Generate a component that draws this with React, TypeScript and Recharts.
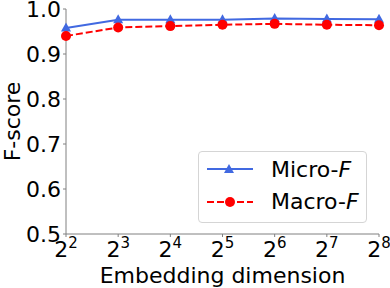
import React from "react"
import { Line, LineChart, XAxis, YAxis } from "recharts"

const exponents = [2, 3, 4, 5, 6, 7, 8]
const microF = [0.958, 0.976, 0.976, 0.976, 0.979, 0.978, 0.977]
const macroF = [0.94, 0.959, 0.962, 0.965, 0.967, 0.965, 0.964]
const yTicks = [0.5, 0.6, 0.7, 0.8, 0.9, 1.0]

const data = exponents.map((e, i) => ({ dim: e, micro: microF[i], macro: macroF[i] }))

const FONT = "'DejaVu Sans', sans-serif"
const BLUE = "#4169e1"
const RED = "#ff0000"

const PowerTick = (props: any) => {
  const { x, y, payload } = props
  return (
    <text x={x} y={y} dy={20} textAnchor="middle" fontFamily={FONT} fill="#000">
      <tspan fontSize={22}>2</tspan>
      <tspan fontSize={15} dy={-9}>{payload.value}</tspan>
    </text>
  )
}

const Triangle = (props: any) => {
  const { cx, cy, index } = props
  if (cx == null || cy == null) return null
  return <path key={index} d={`M${cx},${cy - 5.5} L${cx + 5},${cy + 3.5} L${cx - 5},${cy + 3.5} Z`} fill={BLUE} />
}

const Circle = (props: any) => {
  const { cx, cy, index } = props
  if (cx == null || cy == null) return null
  return <circle key={index} cx={cx} cy={cy} r={5} fill={RED} />
}

const LegendBox = () => (
  <div
    style={{
      position: "absolute",
      left: 198,
      top: 151,
      width: 169,
      height: 72,
      boxSizing: "border-box",
      border: "1px solid #d5d5d5",
      borderRadius: 4,
      background: "rgba(255,255,255,0.8)",
    }}
  >
    <svg width={167} height={70} style={{ display: "block" }}>
      <line x1={8} x2={54} y1={17} y2={17} stroke={BLUE} strokeWidth={2} />
      <path d="M30,12 L35,21 L25,21 Z" fill={BLUE} />
      <text x={72} y={25} fontSize={22} fontFamily={FONT} fill="#000">
        Micro-<tspan fontStyle="italic">F</tspan>
      </text>
      <line x1={8} x2={54} y1={50} y2={50} stroke={RED} strokeWidth={2} strokeDasharray="7 3" />
      <circle cx={31} cy={50} r={5} fill={RED} />
      <text x={72} y={57} fontSize={22} fontFamily={FONT} fill="#000">
        Macro-<tspan fontStyle="italic">F</tspan>
      </text>
    </svg>
  </div>
)

export default function App() {
  return (
    <div style={{ position: "absolute", left: 0, top: 0, width: 390, height: 288, background: "#fff" }}>
      <LineChart width={390} height={288} data={data} margin={{ top: 9, right: 11, bottom: 0, left: 0 }}>
        <XAxis
          dataKey="dim"
          tick={<PowerTick />}
          tickSize={3}
          tickMargin={0}
          stroke="#808080"
          height={54}
          interval={0}
          label={{ value: "Embedding dimension", position: "insideBottom", offset: 5, fontSize: 22, fontFamily: FONT, fill: "#000" }}
        />
        <XAxis xAxisId="top" orientation="top" dataKey="dim" tick={false} tickLine={false} stroke="#808080" height={0} />
        <YAxis
          domain={[0.5, 1.0]}
          ticks={yTicks}
          interval={0}
          tickFormatter={(v: number) => v.toFixed(1)}
          tick={{ fontSize: 22, fontFamily: FONT, fill: "#000" }}
          tickSize={3}
          tickMargin={2}
          stroke="#808080"
          width={66}
          allowDataOverflow
          label={{ value: "F-score", angle: -90, position: "insideLeft", offset: 12, fontSize: 22, fontFamily: FONT, fill: "#000", style: { textAnchor: "middle" } }}
        />
        <YAxis yAxisId="right" orientation="right" tick={false} tickLine={false} stroke="#808080" width={0} />
        <Line dataKey="micro" stroke={BLUE} strokeWidth={2} dot={<Triangle />} isAnimationActive={false} />
        <Line dataKey="macro" stroke={RED} strokeWidth={2} strokeDasharray="7 3" dot={<Circle />} isAnimationActive={false} />
      </LineChart>
      <LegendBox />
    </div>
  )
}
